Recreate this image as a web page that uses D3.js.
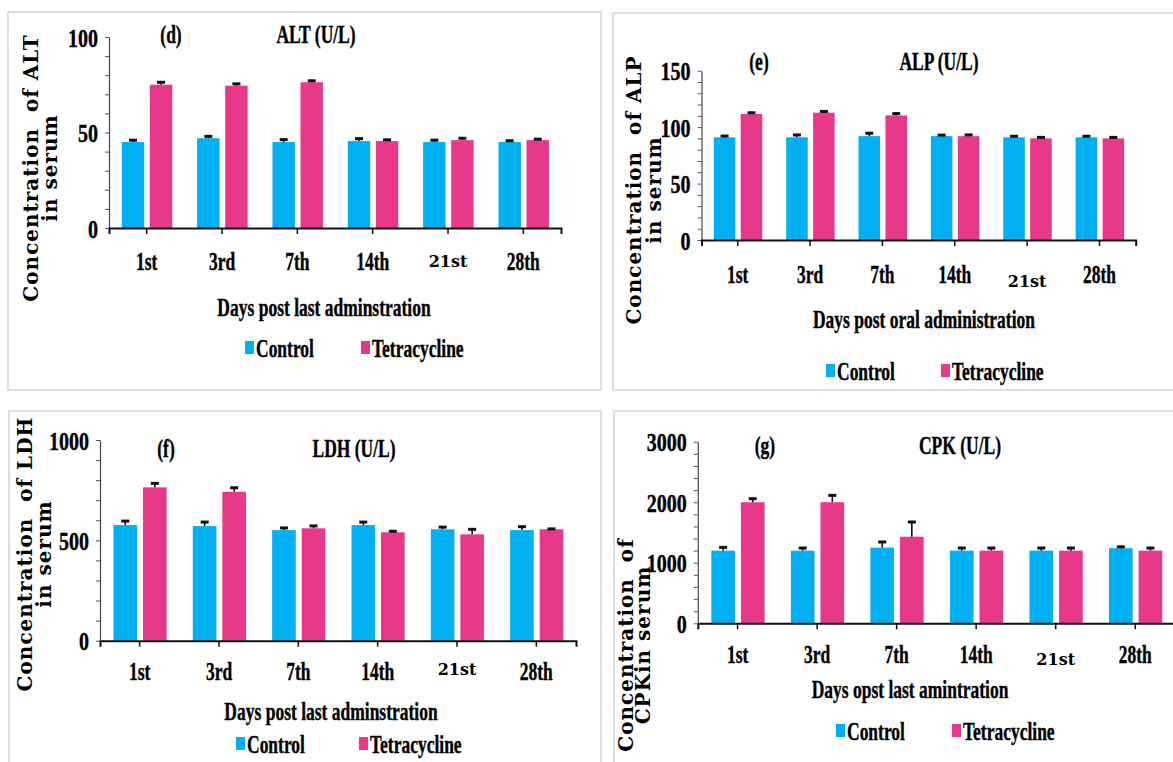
<!DOCTYPE html>
<html>
<head>
<meta charset="utf-8">
<script src="https://cdn.jsdelivr.net/npm/d3@7/dist/d3.min.js"></script>
<style>
  html, body { margin: 0; padding: 0; background: #fff; }
  svg { display: block; }
</style>
</head>
<body>
<svg id="chart" width="1173" height="762"></svg>
<script>
//
// D A T A
//
var days = ['1st', '3rd', '7th', '14th', '21st', '28th'];
var series = ['Control', 'Tetracycline'];

var altControl = [45, 47, 45, 45.5, 45, 45];
var altControlErr = [1.5, 1.5, 1.8, 1.8, 1.5, 1.2];
var altTetra = [75, 74.5, 76.3, 45.5, 46, 46];
var altTetraErr = [1.8, 1.5, 1.3, 1.2, 1.5, 1.0];

var alpControl = [91, 91, 92, 92, 91, 91];
var alpControlErr = [2, 3, 3.5, 1.8, 1.8, 1.8];
var alpTetra = [111.6, 112.8, 110.4, 92, 90, 90];
var alpTetraErr = [2, 2, 2.5, 2, 1.8, 1.8];

var ldhControl = [576, 571, 551, 576, 555, 551];
var ldhControlErr = [25, 25, 16, 20, 16, 22];
var ldhTetra = [764, 742, 560, 540, 530, 555];
var ldhTetraErr = [25, 25, 17, 10, 30, 7];

var cpkControl = [1200, 1200, 1250, 1200, 1200, 1240];
var cpkControlErr = [70, 60, 110, 60, 60, 40];
var cpkTetra = [2000, 2000, 1430, 1200, 1200, 1200];
var cpkTetraErr = [75, 130, 260, 60, 60, 60];

//
// S T Y L E S
//
var COLORS = { Control: '#00b0f0', Tetracycline: '#e7388a' };
var SERIF = '"Liberation Serif", "Times New Roman", serif';
var WIDE = '"DejaVu Serif", serif';
var SX = 0.7; // the figure's text is squeezed sideways

var svg = d3.select('#chart');

// bold condensed text, anchored at (x, y)
function label(g, x, y, str, o) {
  o = o || {};
  return g.append('text')
    .attr('transform', 'translate(' + x + ',' + y + ') scale(' + (o.sx || SX) + ',1)')
    .attr('text-anchor', o.anchor || 'middle')
    .style('font-family', o.font || SERIF)
    .style('font-weight', 'bold')
    .style('font-size', (o.size || 25) + 'px')
    .style('white-space', 'pre')
    .attr('fill', '#000')
    .attr('stroke', '#000').attr('stroke-width', o.font ? 0 : 0.4)
    .text(str);
}

//
// P A N E L S   (layout only)
//
var panels = [
  { tag: '(d)', title: 'ALT (U/L)', xTitle: 'Days post last adminstration',
    yLines: ['Concentration  of ALT', 'in serum'],
    control: altControl, controlErr: altControlErr, tetra: altTetra, tetraErr: altTetraErr,
    max: 100, step: 10, major: 50,
    box: [8, 12, 601, 390], x0: 109, x1: 561, yTop: 37, yBot: 228,
    tagX: 171, titleX: 316, titleY: 43, catY: 270, d21: -3,
    xTitleX: 324, xTitleY: 316, legY: 357, leg: [245, 361],
    yLab: [38, 57], yLabY: 168 },
  { tag: '(e)', title: 'ALP (U/L)', xTitle: 'Days post oral administration',
    yLines: ['Concentration  of ALP', 'in serum'],
    control: alpControl, controlErr: alpControlErr, tetra: alpTetra, tetraErr: alpTetraErr,
    max: 150, step: 10, major: 50,
    box: [613, 13, 1180, 390], x0: 701.5, x1: 1135.7, yTop: 70.7, yBot: 240,
    tagX: 759, titleX: 939, titleY: 70, catY: 283, d21: 4,
    xTitleX: 924, xTitleY: 328, legY: 380, leg: [826, 941],
    yLab: [641, 661], yLabY: 190 },
  { tag: '(f)', title: 'LDH (U/L)', xTitle: 'Days post last adminstration',
    yLines: ['Concentration  of LDH', 'in serum'],
    control: ldhControl, controlErr: ldhControlErr, tetra: ldhTetra, tetraErr: ldhTetraErr,
    max: 1000, step: 100, major: 500,
    box: [9, 411, 601, 775], x0: 100, x1: 576, yTop: 440, yBot: 640.7,
    tagX: 166, titleX: 354, titleY: 457, catY: 680, d21: -5,
    xTitleX: 331, xTitleY: 720, legY: 753, leg: [236, 359],
    yLab: [32, 51], yLabY: 554 },
  { tag: '(g)', title: 'CPK (U/L)', xTitle: 'Days opst last amintration',
    yLines: ['Concentration  of', 'CPKin serum'],
    control: cpkControl, controlErr: cpkControlErr, tetra: cpkTetra, tetraErr: cpkTetraErr,
    max: 3000, step: 200, major: 1000,
    box: [614, 411, 1180, 775], x0: 697.8, x1: 1175, yTop: 441.7, yBot: 623.3,
    tagX: 765, titleX: 960, titleY: 454, catY: 663, d21: 2,
    xTitleX: 910, xTitleY: 698, legY: 740, leg: [836, 952],
    yLab: [633, 650], yLabY: 645 }
];

panels.forEach(function(p) {
  var g = svg.append('g');

  // frame
  g.append('rect')
    .attr('x', p.box[0]).attr('y', p.box[1])
    .attr('width', p.box[2] - p.box[0]).attr('height', p.box[3] - p.box[1])
    .attr('fill', 'none').attr('stroke', '#d3d3d3').attr('stroke-width', 1.5);

  var x = d3.scaleBand().domain(days).range([p.x0, p.x1]);
  var xs = d3.scaleBand().domain(series)
    .range([x.bandwidth() * 0.17, x.bandwidth() * 0.84]).paddingInner(0.2);
  var y = d3.scaleLinear().domain([0, p.max]).range([p.yBot, p.yTop]);

  // Y AXIS
  var yAxis = g.append('g')
    .attr('transform', 'translate(' + p.x0 + ',0)')
    .call(d3.axisLeft(y)
      .tickValues(d3.range(0, p.max + p.step / 2, p.step))
      .tickSize(4).tickSizeOuter(0)
      .tickFormat(function(d) { return d % p.major === 0 ? d : ''; }));
  yAxis.select('.domain').attr('stroke', '#444').attr('stroke-width', 1.2);
  yAxis.selectAll('.tick line').attr('stroke', '#555');
  yAxis.selectAll('.tick text')
    .attr('x', null)
    .attr('transform', 'translate(-11,0) scale(0.8,1)')
    .attr('dy', '0.36em')
    .style('font-family', SERIF).style('font-weight', 'bold').style('font-size', '25px')
    .attr('fill', '#000').attr('stroke', '#000').attr('stroke-width', 0.4);

  // BARS
  var rows = days.map(function(d, i) {
    return [
      { day: d, s: 'Control', v: p.control[i], e: p.controlErr[i] },
      { day: d, s: 'Tetracycline', v: p.tetra[i], e: p.tetraErr[i] }
    ];
  });
  var groups = g.selectAll('g.day').data(rows).enter().append('g')
    .attr('class', 'day')
    .attr('transform', function(r) { return 'translate(' + x(r[0].day) + ',0)'; });

  groups.selectAll('rect').data(function(r) { return r; }).enter().append('rect')
    .attr('x', function(d) { return xs(d.s); })
    .attr('width', xs.bandwidth())
    .attr('y', function(d) { return y(d.v); })
    .attr('height', function(d) { return y(0) - y(d.v); })
    .attr('fill', function(d) { return COLORS[d.s]; });

  // ERROR BARS (upper only)
  groups.selectAll('line.err').data(function(r) { return r; }).enter().append('line')
    .attr('class', 'err')
    .attr('x1', function(d) { return xs(d.s) + xs.bandwidth() / 2; })
    .attr('x2', function(d) { return xs(d.s) + xs.bandwidth() / 2; })
    .attr('y1', function(d) { return y(d.v); })
    .attr('y2', function(d) { return y(d.v + d.e); })
    .attr('stroke', '#111').attr('stroke-width', 1.6);
  groups.selectAll('line.cap').data(function(r) { return r; }).enter().append('line')
    .attr('class', 'cap')
    .attr('x1', function(d) { return xs(d.s) + xs.bandwidth() / 2 - 4; })
    .attr('x2', function(d) { return xs(d.s) + xs.bandwidth() / 2 + 4; })
    .attr('y1', function(d) { return y(d.v + d.e) + 1; })
    .attr('y2', function(d) { return y(d.v + d.e) + 1; })
    .attr('stroke', '#111').attr('stroke-width', 3);

  // X AXIS
  var xAxis = g.append('g')
    .attr('transform', 'translate(0,' + p.yBot + ')')
    .call(d3.axisBottom(x).tickSize(6).tickSizeOuter(6).tickFormat(''));
  xAxis.select('.domain').attr('stroke', '#111').attr('stroke-width', 2);
  xAxis.selectAll('.tick line').attr('stroke', '#111').attr('stroke-width', 1.5);

  days.forEach(function(d) {
    if (d === '21st') {
      label(g, x(d) + x.bandwidth() / 2, p.catY + p.d21, d, { font: WIDE, size: 16, sx: 1 });
    } else {
      label(g, x(d) + x.bandwidth() / 2, p.catY, d);
    }
  });

  // TITLES
  label(g, p.tagX, p.titleY, p.tag);
  label(g, p.titleX, p.titleY, p.title);
  label(g, p.xTitleX, p.xTitleY, p.xTitle);

  // Y LABEL
  p.yLines.forEach(function(t, i) {
    g.append('text')
      .attr('transform', 'translate(' + p.yLab[i] + ',' + p.yLabY + ') rotate(-90)')
      .attr('text-anchor', 'middle')
      .style('font-family', WIDE).style('font-weight', 'bold')
      .style('font-size', '20px').style('letter-spacing', '1px')
      .style('white-space', 'pre')
      .attr('fill', '#000')
      .text(t);
  });

  // LEGEND
  series.forEach(function(s, i) {
    g.append('rect')
      .attr('x', p.leg[i]).attr('y', p.legY - 16)
      .attr('width', 9).attr('height', 13)
      .attr('fill', COLORS[s]);
    label(g, p.leg[i] + 11, p.legY, s, { anchor: 'start' });
  });
});
</script>
</body>
</html>
